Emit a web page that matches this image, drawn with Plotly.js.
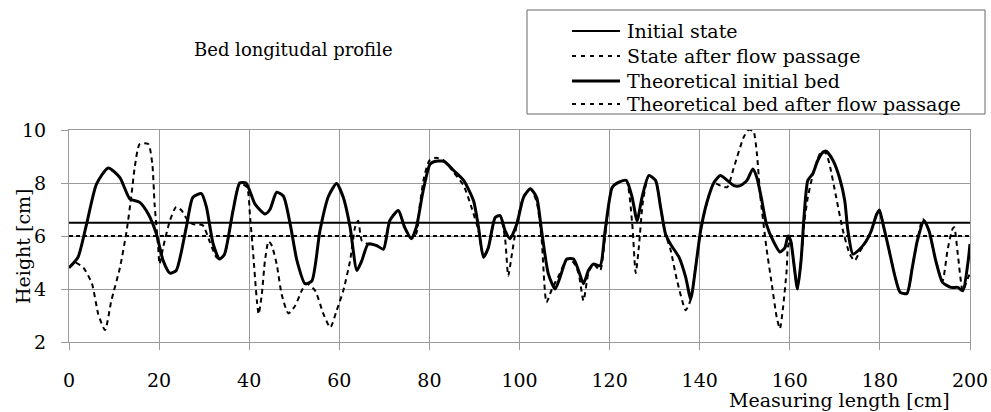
<!DOCTYPE html>
<html>
<head>
<meta charset="utf-8">
<script src="https://cdn.plot.ly/plotly-3.0.1.min.js"></script>
<style>html,body{margin:0;padding:0;background:#fff;}#chart{width:991px;height:412px;}</style>
</head>
<body>
<div id="chart"></div>
<script>
// Measured bed profile: initial state
const initialX = [0,2,3.9,6.1,8.7,11.3,13.5,15.7,17.6,19.4,20.9,22.4,23.8,26,27.5,29.4,30.5,32,33.4,34.5,36.4,37.9,39.3,41.3,43.5,44.6,46.1,47.6,49.1,50.6,52.4,53.9,55.7,57.6,59.4,60.9,62.4,63.9,65,66.4,68.3,69.8,71.2,73.1,74.5,76,77.1,78.6,80.1,81,83.2,85.4,87.6,89.8,90.9,92,93.1,94.6,95.7,96.8,97.9,99.4,100.9,102.4,103.8,104.9,106.4,107.9,109,110.5,112,113.1,114.2,115.3,116.4,117.9,119,120.6,122.1,123.7,125,126.1,127.2,128.7,130.2,131.3,132.4,133.5,135.4,136.9,138,139.1,140.2,141.7,143.2,144.6,146.1,147.6,149,150.5,151.8,152.7,153.8,154.8,156.3,157.8,158.9,159.6,160.2,161,161.7,162.5,163.2,164,165.1,166.2,167.3,168.1,169.6,171.1,172.2,172.9,174,175.5,177,178.1,179.3,179.9,180.7,181.9,183.4,184.5,186,187.2,188.3,189.8,190.9,192.4,193.9,195.8,197.3,198.4,199.6,200];
const initialY = [4.8,5.2,6.45,7.96,8.57,8.2,7.4,7.27,6.83,6.08,5.07,4.6,4.7,6.3,7.46,7.6,7.1,5.7,5.13,5.3,6.95,8.0,8.0,7.2,6.83,7.0,7.65,7.5,6.45,5.07,4.2,4.3,6.2,7.5,7.98,7.45,6.33,4.7,5.07,5.7,5.64,5.5,6.58,6.96,6.33,5.9,6.33,7.7,8.7,8.8,8.82,8.47,8.1,7.33,6.33,5.2,5.57,6.7,6.77,6.2,5.9,6.45,7.46,7.78,7.46,6.2,4.57,4.0,4.44,5.13,5.13,4.7,4.2,4.7,4.94,4.88,6.2,7.84,8.03,8.1,7.46,6.58,7.46,8.28,8.1,7.1,6.08,5.7,5.2,4.44,3.62,4.82,6.2,7.33,8.03,8.28,8.1,7.9,7.9,8.1,8.53,8.2,7.33,6.45,5.82,5.4,5.55,6.0,5.82,4.82,4.0,5.07,6.83,8.1,8.35,8.85,9.15,9.2,8.85,8.16,7.33,6.2,5.32,5.5,5.82,6.2,6.83,6.96,6.45,5.57,4.44,3.87,3.83,4.82,5.82,6.58,6.2,5.07,4.25,4.06,4.06,3.93,5.07,5.7];

// Measured bed profile: state after flow passage
const afterX = [0,1.3,3.2,5.1,6.5,8,9.4,11.3,12.8,13.9,14.6,15.7,17.6,18.5,19,19.8,20.1,20.9,22.4,23.8,25,26.4,27.5,29.7,31.2,32.7,33.4,34.5,36.4,37.9,39.5,40.2,40.9,41.7,42.1,42.8,43.5,44.3,45,46.1,47.2,48.7,50.2,51.7,52.8,54.6,56.5,58,59.4,60.9,62.4,63.5,64.2,65,66.4,68.3,69.8,71.2,73.1,74.5,76,77.1,77.9,78.8,80,81.5,83.2,85.4,87.6,89.5,90.9,92,93.1,94.6,95.7,96.8,97.5,98.3,99.4,100.9,102.4,103.8,104.9,106,107.2,109,110.5,112,113.1,114.2,115.3,116.4,117.9,119,120.6,122.1,123.7,125,125.8,126.5,127.4,128.7,130.2,131.3,132.4,133.5,135,136.9,138,139.1,140.2,141.7,143.2,144.6,146.1,147.6,149.7,150.8,151.9,152.7,153.4,154.8,155.9,157.1,157.8,158.5,159.3,159.6,160.2,161,161.7,162.5,163.2,164,165.1,166.2,167,168.1,168.8,170.3,171.8,173.3,174.4,175.5,177,178.1,179.3,179.9,180.7,181.9,183.4,184.5,186,187.2,188.3,189.5,190.9,192.4,193.9,195,196.1,196.5,197.3,198.4,199.6,200];
const afterY = [4.8,5.0,4.8,4.2,3.05,2.45,3.56,4.8,6.2,7.6,8.6,9.47,9.47,8.7,7.2,5.57,4.94,5.57,6.58,7.1,6.96,6.58,6.45,6.4,5.8,5.2,5.13,5.3,6.95,8.0,7.84,6.7,5.3,3.56,3.05,3.8,5.07,5.8,5.64,4.94,3.8,3.08,3.37,3.95,4.2,3.95,3.05,2.55,3.18,3.95,5.07,6.33,6.58,5.82,5.7,5.64,5.5,6.58,6.96,6.33,5.9,6.1,7.2,8.2,8.85,8.95,8.85,8.4,7.9,7.0,6.2,5.2,5.57,6.7,6.77,5.9,4.5,5.3,6.45,7.5,7.78,7.3,5.9,3.5,4.0,4.6,5.13,5.0,4.6,3.56,4.6,4.94,4.7,6.0,7.84,8.03,8.1,6.5,4.6,5.6,7.3,8.28,8.1,7.1,6.08,5.5,4.3,3.2,3.6,4.82,6.2,7.33,8.0,7.9,7.84,8.6,9.7,10.0,9.96,9.1,7.6,5.57,4.3,2.93,2.5,3.3,4.7,5.6,5.82,4.82,4.0,5.07,6.5,7.46,8.3,8.9,9.2,9.1,8.72,7.46,6.2,5.32,5.07,5.4,5.82,6.2,6.83,7.0,6.45,5.57,4.44,3.87,3.83,4.82,5.82,6.64,6.2,5.07,4.3,5.45,6.26,6.33,5.3,3.93,4.44,4.6];

// Theoretical beds (constant levels)
const theoryX = [0, 200];
const theoryInitialY = [6.5, 6.5];
const theoryAfterY = [6.0, 6.0];

const seriesNames = ["Initial state", "State after flow passage", "Theoretical initial bed", "Theoretical bed after flow passage"];
const xTicks = [0,20,40,60,80,100,120,140,160,180,200];
const yTicks = [2,4,6,8,10];
const chartTitle = "Bed longitudal profile";
const xTitle = "Measuring length [cm]";
const yTitle = "Height [cm]";

const FONT = "DejaVu Serif";

const lineStyles = [
  {color: "#000", width: 3, shape: "spline", smoothing: 0.6},
  {color: "#000", width: 2, dash: "5px,4px", shape: "spline", smoothing: 0.6},
  {color: "#000", width: 2},
  {color: "#000", width: 2, dash: "4px,3px"}
];
const legendStyles = [
  {color: "#000", width: 2},
  {color: "#000", width: 2, dash: "4px,5px"},
  {color: "#000", width: 3},
  {color: "#000", width: 2, dash: "4px,5px"}
];

const traces = [
  {x: initialX, y: initialY, name: seriesNames[0], mode: "lines", line: lineStyles[0]},
  {x: afterX, y: afterY, name: seriesNames[1], mode: "lines", line: lineStyles[1]},
  {x: theoryX, y: theoryInitialY, name: seriesNames[2], mode: "lines", line: lineStyles[2]},
  {x: theoryX, y: theoryAfterY, name: seriesNames[3], mode: "lines", line: lineStyles[3]}
];

const PL = 69, PW = 901, PB = 342, PH = 212;
const px = v => (v - PL) / PW;
const py = v => (PB - v) / PH;

const shapes = [
  {type: "rect", xref: "paper", yref: "paper", x0: px(527), x1: px(985), y0: py(114), y1: py(10),
   line: {color: "#666", width: 1}, fillcolor: "#fff", layer: "above"}
];
const annotations = [
  {text: chartTitle, xref: "paper", yref: "paper", x: px(293), y: py(49),
   xanchor: "center", yanchor: "middle", showarrow: false,
   font: {family: FONT, size: 18, color: "#000"}},
  {text: xTitle, xref: "paper", yref: "paper", x: px(839), y: py(400),
   xanchor: "center", yanchor: "middle", showarrow: false,
   font: {family: FONT, size: 19, color: "#000"}},
  {text: yTitle, xref: "paper", yref: "paper", x: px(23), y: py(247), textangle: -90,
   xanchor: "center", yanchor: "middle", showarrow: false,
   font: {family: FONT, size: 19, color: "#000"}}
];
const rowY = [31, 56, 81, 104];
seriesNames.forEach((name, i) => {
  shapes.push({type: "line", xref: "paper", yref: "paper", x0: px(572), x1: px(620),
    y0: py(rowY[i]), y1: py(rowY[i]), line: legendStyles[i], layer: "above"});
  annotations.push({text: name, xref: "paper", yref: "paper", x: px(625), y: py(rowY[i]),
    xanchor: "left", yanchor: "middle", showarrow: false,
    font: {family: FONT, size: 19, color: "#000"}});
});

const layout = {
  width: 991, height: 412,
  margin: {l: 69, r: 21, t: 130, b: 70},
  paper_bgcolor: "#fff", plot_bgcolor: "#fff",
  font: {family: FONT, color: "#000", size: 19},
  showlegend: false,
  shapes: shapes,
  annotations: annotations,
  xaxis: {
    range: [0, 200], tickvals: xTicks, ticktext: xTicks.map(String),
    showgrid: true, gridcolor: "#9a9a9a", gridwidth: 1,
    showline: true, linecolor: "#9a9a9a", linewidth: 1, mirror: true,
    ticks: "outside", ticklen: 7, tickcolor: "#9a9a9a",
    ticklabelstandoff: 14,
    zeroline: false, fixedrange: true,
    tickfont: {family: FONT, size: 19, color: "#000"}
  },
  yaxis: {
    range: [2, 10], tickvals: yTicks, ticktext: yTicks.map(String),
    showgrid: true, gridcolor: "#9a9a9a", gridwidth: 1,
    showline: true, linecolor: "#9a9a9a", linewidth: 1, mirror: true,
    ticks: "outside", ticklen: 7, tickcolor: "#9a9a9a",
    ticklabelstandoff: 11,
    zeroline: false, fixedrange: true,
    tickfont: {family: FONT, size: 19, color: "#000"}
  }
};

Plotly.newPlot("chart", traces, layout, {displayModeBar: false, staticPlot: true});
</script>
</body>
</html>
